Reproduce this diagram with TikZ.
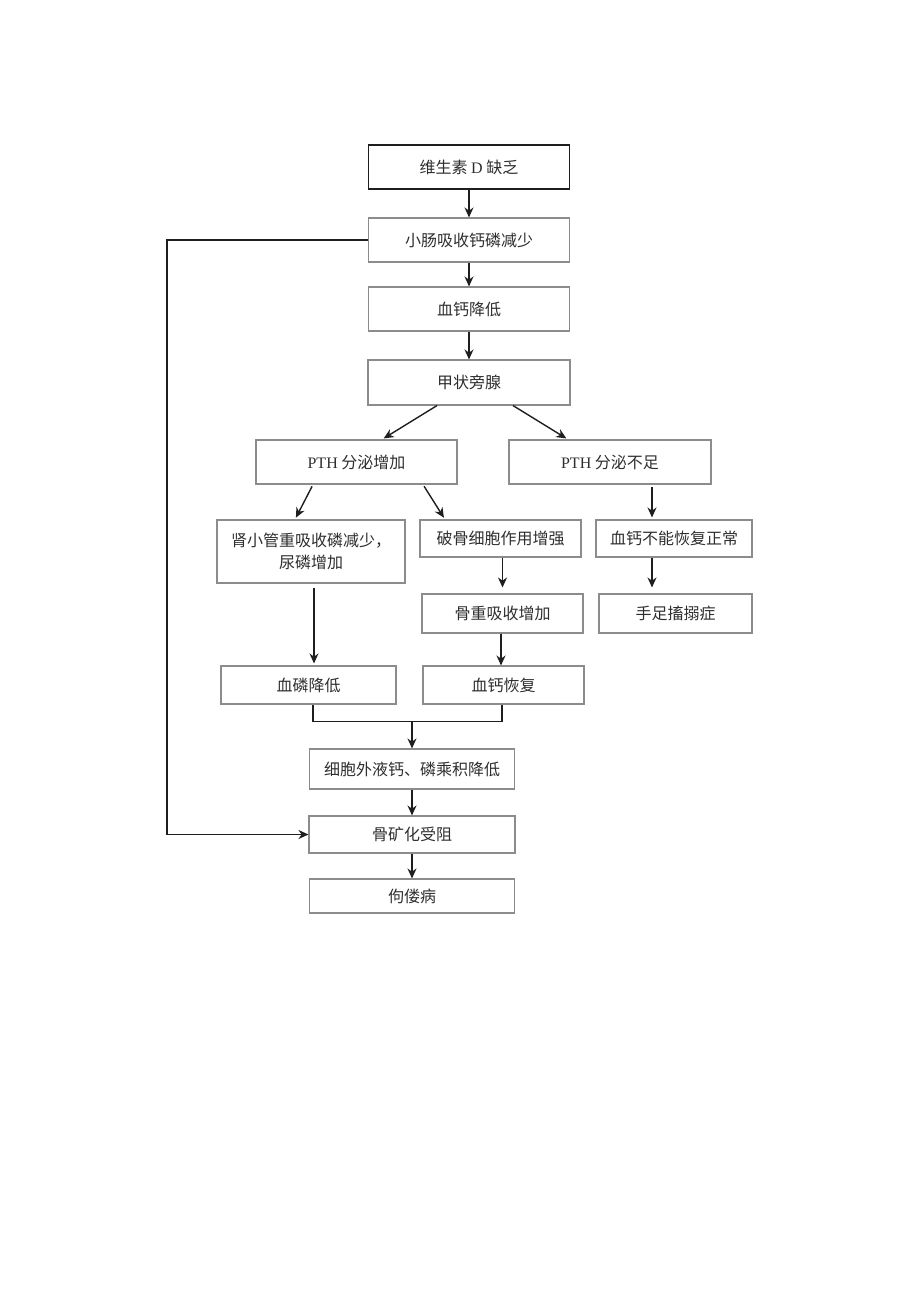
\documentclass[tikz,border=0pt]{standalone}
\usepackage{fontspec}
\setmainfont{Liberation Serif}
\newfontfamily\cjk{Noto Sans CJK SC}
\usetikzlibrary{arrows.meta}
\definecolor{boxgray}{HTML}{8C8C8C}
\definecolor{inkgray}{HTML}{1E1E1E}
\definecolor{txtgray}{HTML}{2E2E2E}
\tikzset{
  flowbox/.style={draw=boxgray, line width=1.1pt, rectangle, inner sep=0pt,
    text=txtgray, font=\cjk\fontsize{16pt}{22pt}\selectfont, align=center},
  arr/.style={draw=inkgray, line width=1.4pt, -{Stealth[length=10pt,width=9pt]}},
  link/.style={draw=inkgray, line width=1.4pt}
}

\begin{document}
\begin{tikzpicture}[x=1pt,y=-1pt]
  \useasboundingbox (0,0) rectangle (920,1301);
  % main column
  \node[flowbox, draw=inkgray, line width=1.6pt, minimum width=201pt, minimum height=44pt] (vitd) at (469,167) {维生素 \textrm{D} 缺乏};
  \node[flowbox, minimum width=201pt, minimum height=44pt] (gut) at (469,240) {小肠吸收钙磷减少};
  \node[flowbox, minimum width=201pt, minimum height=44pt] (ca) at (469,309) {血钙降低};
  \node[flowbox, minimum width=202pt, minimum height=45pt] (pth) at (469,382.5) {甲状旁腺};
  % PTH branches
  \node[flowbox, minimum width=201pt, minimum height=44pt] (pthup) at (356.5,462) {\textrm{PTH} 分泌增加};
  \node[flowbox, minimum width=202pt, minimum height=44pt] (pthlow) at (610,462) {\textrm{PTH} 分泌不足};
  \node[flowbox, minimum width=188pt, minimum height=63pt] (renal) at (311,551.5) {肾小管重吸收磷减少，\\尿磷增加};
  \node[flowbox, minimum width=161pt, minimum height=37pt] (osteo) at (500.5,538.5) {破骨细胞作用增强};
  \node[flowbox, minimum width=156pt, minimum height=37pt] (canot) at (674,538.5) {血钙不能恢复正常};
  \node[flowbox, minimum width=161pt, minimum height=39pt] (resorb) at (502.5,613.5) {骨重吸收增加};
  \node[flowbox, minimum width=153pt, minimum height=39pt] (tetany) at (675.5,613.5) {手足搐搦症};
  \node[flowbox, minimum width=175pt, minimum height=38pt] (plow) at (308.5,685) {血磷降低};
  \node[flowbox, minimum width=161pt, minimum height=38pt] (carec) at (503.5,685) {血钙恢复};
  % lower column
  \node[flowbox, minimum width=205pt, minimum height=40pt] (product) at (412,769) {细胞外液钙、磷乘积降低};
  \node[flowbox, minimum width=206pt, minimum height=37pt] (mineral) at (412,834.5) {骨矿化受阻};
  \node[flowbox, minimum width=205pt, minimum height=34pt] (rickets) at (412,896) {佝偻病};
  \coordinate (join) at ([yshift=27pt]product.north);

  \draw[arr] (vitd) -- (gut);
  \draw[arr] (gut) -- (ca);
  \draw[arr] (ca) -- (pth);
  \draw[arr, shorten >=2pt] ([xshift=-32pt]pth.south) -- ([xshift=25.5pt]pthup.north);
  \draw[arr, shorten >=2pt] ([xshift=44pt]pth.south) -- ([xshift=-42pt]pthlow.north);
  \draw[arr, shorten <=2pt, shorten >=2pt] ([xshift=-43.5pt]pthup.south) -- ([xshift=-16pt]renal.north);
  \draw[arr, shorten <=2pt, shorten >=2pt] ([xshift=66.5pt]pthup.south) -- ([xshift=-55.5pt]osteo.north);
  \draw[arr, shorten <=2pt, shorten >=2pt] ([xshift=42pt]pthlow.south) -- ([xshift=42pt]pthlow.south |- canot.north);
  \draw[arr, shorten >=6pt] (resorb.north |- osteo.south) -- (resorb.north);
  \draw[arr, shorten >=6pt] ([xshift=-22pt]canot.south) -- ([xshift=-22pt]canot.south |- tetany.north);
  \draw[arr, shorten <=4pt, shorten >=2pt] ([xshift=3pt]renal.south) -- ([xshift=3pt]renal.south |- plow.north);
  \draw[arr] ([xshift=-1.5pt]resorb.south) -- ([xshift=-1.5pt]resorb.south |- carec.north);
  \draw[link] ([xshift=4.5pt]plow.south) |- (join) -| ([xshift=-1.5pt]carec.south);
  \draw[arr] (join) -- (product.north);
  \draw[arr] (product) -- (mineral);
  \draw[arr] (mineral) -- (rickets);
  % feedback line on the left
  \draw[arr] (gut.west) -- ++(-201,0) |- (mineral.west);
\end{tikzpicture}
\end{document}
